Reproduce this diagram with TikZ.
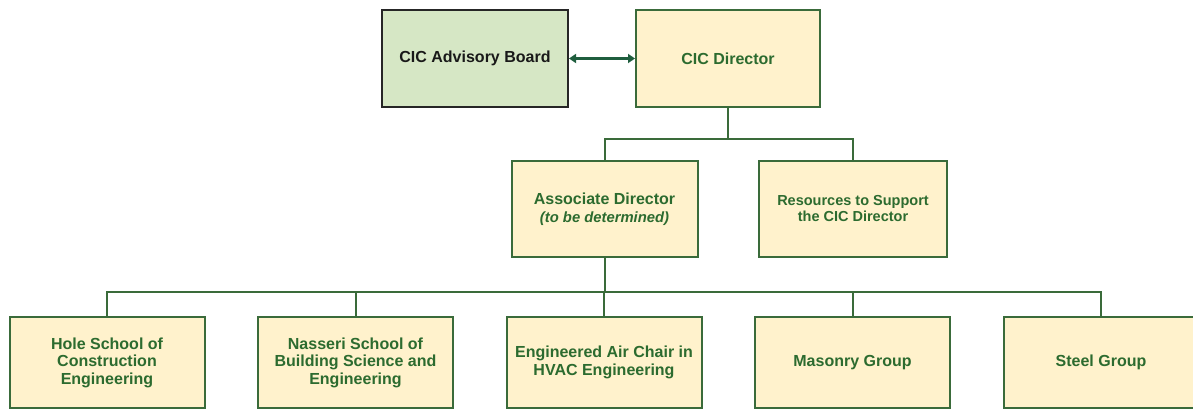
\documentclass[tikz,border=0pt]{standalone}
\usepackage{fontspec}
\setmainfont{Liberation Sans}
\usetikzlibrary{arrows.meta,positioning}
\definecolor{unitfill}{HTML}{FFF2CC}
\definecolor{boardfill}{HTML}{D6E7C5}
\definecolor{unitline}{HTML}{3A6B3A}
\definecolor{unittext}{HTML}{2C6B2F}
\definecolor{arrowgreen}{HTML}{1F5E3E}

\begin{document}
\begin{tikzpicture}[x=1pt,y=-1pt,>={Triangle[length=7pt,width=9pt]},
    unit/.style={draw=unitline,line width=2pt,fill=unitfill,text=unittext,
      font=\bfseries\fontsize{16}{18.5}\selectfont,align=center,inner sep=0pt,
      minimum width=186pt,minimum height=96pt},
    lowunit/.style={unit,minimum width=195pt,minimum height=91pt,
      font=\bfseries\fontsize{16}{17.5}\selectfont},
    link/.style={draw=unitline,line width=2pt}]
    \useasboundingbox (0,0) rectangle (1193,409);
    \clip (0,0) rectangle (1193,409);

    \node[unit,fill=boardfill,draw=black!85,text=black!90,minimum height=97pt] (board) at (475,58.5) {CIC Advisory Board};
    \node[unit,minimum width=184pt,minimum height=97pt] (director) at (728,58.5) {CIC Director};
    \node[unit] (assoc) at (604.5,209) {Associate Director\\{\fontsize{14.8}{18.5}\selectfont\itshape (to be determined)}};
    \node[unit,minimum width=188pt,font=\bfseries\fontsize{14.5}{16}\selectfont] (support) at (853,209) {Resources to Support\\the CIC Director};

    \foreach \name/\txt [count=\i from 0] in {
        hole/{Hole School of\\Construction\\Engineering},
        nasseri/{Nasseri School of\\Building Science and\\Engineering},
        hvac/{Engineered Air Chair in\\HVAC Engineering},
        masonry/{Masonry Group},
        steel/{Steel Group}}
    {
        \node[lowunit] (\name) at (107+248.5*\i,362.5) {\txt};
    }

    \draw[<->,arrowgreen,line width=3pt] (board) -- (director);

    \draw[link] (director.south) -- ++(0,31) coordinate (split);
    \draw[link] (assoc.north) |- (split) -| (support.north);

    \draw[link] (assoc.south) -- ++(0,34) coordinate (bus);
    \draw[link] (hole.north) |- (bus) -| (steel.north);
    \foreach \name in {nasseri,hvac,masonry}
        \draw[link] (\name.north) -- (\name.north |- bus);
\end{tikzpicture}
\end{document}
